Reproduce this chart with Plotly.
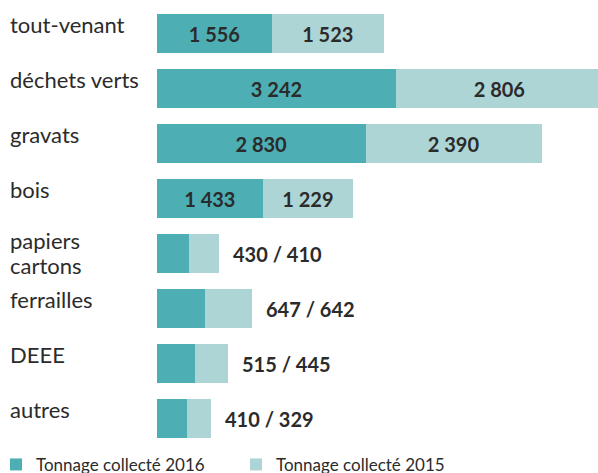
import plotly.graph_objects as go

categories = ["tout-venant", "déchets verts", "gravats", "bois",
              "papiers<br>cartons", "ferrailles", "DEEE", "autres"]
t2016 = [1556, 3242, 2830, 1433, 430, 647, 515, 410]
t2015 = [1523, 2806, 2390, 1229, 410, 642, 445, 329]
inside = [True, True, True, True, False, False, False, False]

C16 = "#4DAFB4"
C15 = "#ADD5D6"
TXT = "#2B2B2B"
FONT = "Lato, 'Noto Sans', sans-serif"

def fmt(v):
    return f"{v:,}".replace(",", " ")

ycats = [c.replace("<br>", " ") for c in categories]

txt16 = [f"<b>{fmt(v)}</b>" if ins else "" for v, ins in zip(t2016, inside)]
txt15 = [f"<b>{fmt(v)}</b>" if ins else "" for v, ins in zip(t2015, inside)]

fig = go.Figure()
fig.add_trace(go.Bar(
    y=ycats, x=t2016, orientation="h", name="Tonnage collecté 2016",
    marker=dict(color=C16, line=dict(width=0)),
    text=txt16, textposition="inside", insidetextanchor="middle",
    textfont=dict(family=FONT, size=20, color=TXT),
    cliponaxis=True,
))
fig.add_trace(go.Bar(
    y=ycats, x=t2015, orientation="h", name="Tonnage collecté 2015",
    marker=dict(color=C15, line=dict(width=0)),
    text=txt15, textposition="inside", insidetextanchor="middle",
    textfont=dict(family=FONT, size=20, color=TXT),
    cliponaxis=True,
))

annotations = []
for cat, lab in zip(ycats, categories):
    lines = lab.split("<br>")
    if len(lines) == 1:
        shifts = [9]
    else:
        shifts = [13, -12]
    for line, ys in zip(lines, shifts):
        annotations.append(dict(
            x=0, xref="paper", xshift=-149, y=cat, yref="y", yshift=ys,
            text=line, showarrow=False, xanchor="left", yanchor="middle", align="left",
            font=dict(family=FONT, size=22, color=TXT),
        ))
for cat, a, b, ins in zip(ycats, t2016, t2015, inside):
    if not ins:
        annotations.append(dict(
            x=a + b, y=cat, xref="x", yref="y", xshift=12,
            text=f"<b>{fmt(a)} / {fmt(b)}</b>", showarrow=False,
            xanchor="left", yanchor="middle",
            font=dict(family=FONT, size=20, color=TXT),
        ))

fig.update_layout(
    width=598, height=473,
    margin=dict(l=157, r=0, t=6, b=27, autoexpand=False),
    barmode="stack", bargap=0.273,
    plot_bgcolor="white", paper_bgcolor="white",
    showlegend=True,
    legend=dict(orientation="h",
                x=-161/441, xanchor="left", y=-0.002, yanchor="top",
                font=dict(family=FONT, size=17, color=TXT),
                entrywidth=195, entrywidthmode="pixels",
                traceorder="normal", itemsizing="constant"),
    annotations=annotations,
    uniformtext=dict(mode="show", minsize=10),
)
fig.update_xaxes(range=[0, 5984], visible=False, showgrid=False, zeroline=False)
fig.update_yaxes(autorange="reversed", showticklabels=False, showgrid=False,
                 zeroline=False, ticks="")

fig.write_html("out.html", config={"displayModeBar": False})

# remove default browser body margin so the figure sits at the page origin
with open("out.html", encoding="utf-8") as f:
    html = f.read()
html = html.replace("<head>", "<head><style>html,body{margin:0;padding:0;}</style>", 1)
with open("out.html", "w", encoding="utf-8") as f:
    f.write(html)
